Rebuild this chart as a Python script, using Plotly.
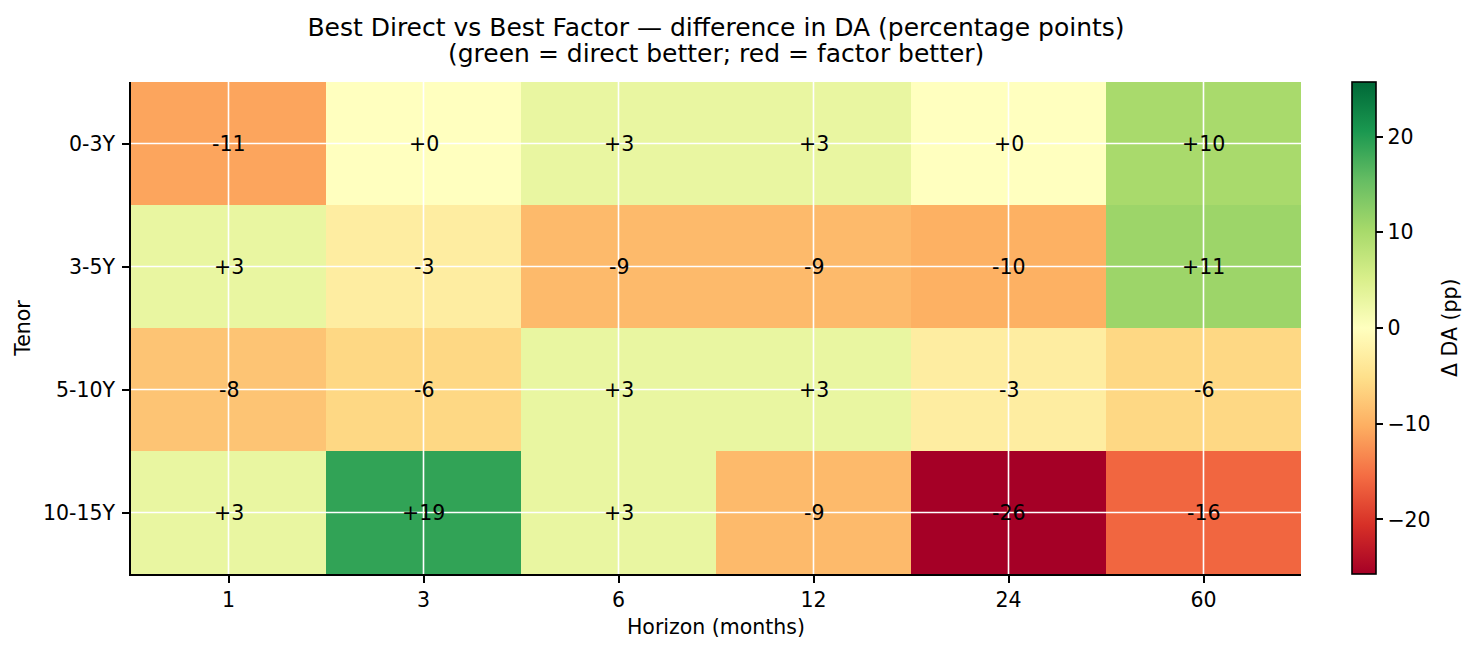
import plotly.graph_objects as go

horizons = ["1", "3", "6", "12", "24", "60"]
tenors = ["0-3Y", "3-5Y", "5-10Y", "10-15Y"]
delta_da = [
    [-11, 0, 3, 3, 0, 10],
    [3, -3, -9, -9, -10, 11],
    [-8, -6, 3, 3, -3, -6],
    [3, 19, 3, -9, -25.7, -16],
]
cbar_ticks = [-20, -10, 0, 10, 20]
title_lines = [
    "Best Direct vs Best Factor — difference in DA (percentage points)",
    "(green = direct better; red = factor better)",
]

vmax = max(abs(v) for row in delta_da for v in row)
xi = list(range(len(horizons)))
yi = list(range(len(tenors)))

FONT = "DejaVu Sans"
TXT = 20.5
W, H = 1478, 652
L, R, T, B = 131, 177, 82, 78
plot_w = W - L - R
plot_h = H - T - B

fig = go.Figure()
fig.add_trace(go.Heatmap(
    x=xi, y=yi, z=delta_da,
    colorscale="RdYlGn", zmin=-vmax, zmax=vmax,
    hoverinfo="skip",
    colorbar=dict(
        x=1 + (1352 - (W - R)) / plot_w, xanchor="left", xref="paper",
        y=0.5, yanchor="middle", len=1, lenmode="fraction",
        thickness=24, xpad=0, ypad=0,
        outlinewidth=1.6, outlinecolor="black",
        ticks="outside", ticklen=7, tickwidth=1.6, tickcolor="black",
        tickvals=cbar_ticks,
        tickfont=dict(family=FONT, size=TXT, color="black"),
    ),
))

# white grid lines through category centers, above the cells
for x in xi:
    fig.add_shape(type="line", xref="x", yref="y domain", x0=x, x1=x, y0=0, y1=1,
                  line=dict(color="white", width=1.6), layer="above")
for y in yi:
    fig.add_shape(type="line", xref="x domain", yref="y", x0=0, x1=1, y0=y, y1=y,
                  line=dict(color="white", width=1.6), layer="above")

# cell value labels
for i in yi:
    for j in xi:
        v = delta_da[i][j]
        fig.add_annotation(x=j, y=i, xref="x", yref="y", text=f"{v:+.0f}",
                           showarrow=False,
                           font=dict(family=FONT, size=TXT, color="black"))

# colorbar label
fig.add_annotation(xref="paper", yref="paper",
                   x=1 + (1464 - (W - R)) / plot_w, y=0.5,
                   text="Δ DA (pp)", textangle=-90, showarrow=False,
                   font=dict(family=FONT, size=TXT, color="black"))

# second title line
fig.add_annotation(xref="paper", yref="paper", x=0.5,
                   y=1 + (T - 53) / plot_h, yanchor="middle",
                   text=title_lines[1], showarrow=False,
                   font=dict(family=FONT, size=25, color="black"))

fig.update_layout(
    width=W, height=H,
    margin=dict(l=L, r=R, t=T, b=B, pad=0),
    paper_bgcolor="white", plot_bgcolor="white",
    font=dict(family=FONT, size=TXT, color="black"),
    title=dict(
        text=title_lines[0],
        x=(L + plot_w / 2) / W, xanchor="center",
        y=1 - 27 / H, yanchor="middle", yref="container",
        font=dict(family=FONT, size=25, color="black"),
    ),
    xaxis=dict(
        range=[-0.5, len(horizons) - 0.5],
        tickmode="array", tickvals=xi, ticktext=horizons,
        showgrid=False, zeroline=False,
        showline=True, linecolor="black", linewidth=1.7,
        ticks="outside", ticklen=7, tickwidth=1.6, tickcolor="black",
        tickfont=dict(family=FONT, size=TXT, color="black"),
        title=dict(text="Horizon (months)", standoff=8,
                   font=dict(family=FONT, size=TXT, color="black")),
    ),
    yaxis=dict(
        range=[len(tenors) - 0.5, -0.5],
        tickmode="array", tickvals=yi, ticktext=tenors,
        showgrid=False, zeroline=False,
        showline=True, linecolor="black", linewidth=1.7,
        ticks="outside", ticklen=7, tickwidth=1.6, tickcolor="black",
        ticklabelstandoff=3,
        tickfont=dict(family=FONT, size=TXT, color="black"),
        title=dict(text="Tenor", standoff=7,
                   font=dict(family=FONT, size=TXT, color="black")),
    ),
)

fig.write_html("out.html")
